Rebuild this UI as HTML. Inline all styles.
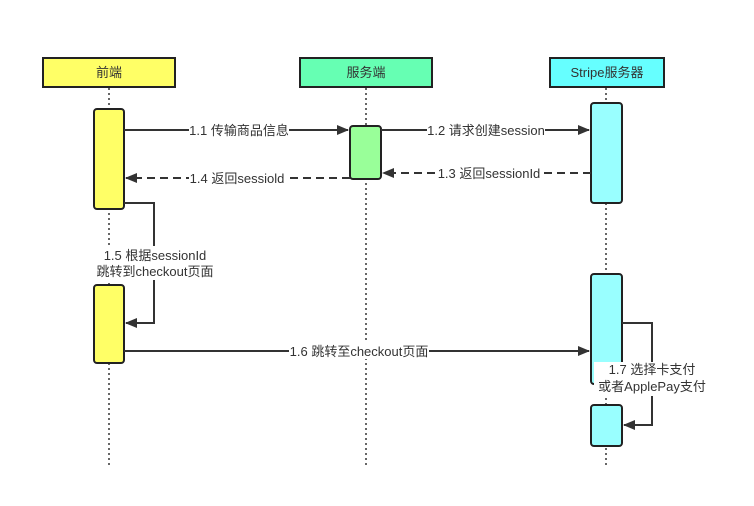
<!DOCTYPE html>
<html><head><meta charset="utf-8"><style>
html,body{margin:0;padding:0;background:#fff;}
svg text{font-family:"Liberation Sans","Noto Sans CJK SC",sans-serif;font-size:13px;fill:#333;}
</style></head><body>
<svg width="754" height="501" viewBox="0 0 754 501" xmlns="http://www.w3.org/2000/svg">
<defs><marker id="a" markerWidth="12" markerHeight="10" refX="11" refY="5" orient="auto" markerUnits="userSpaceOnUse"><path d="M0,0 L12,5 L0,10 Z" fill="#333"/></marker></defs>
<g stroke="#333" stroke-width="1.5" stroke-dasharray="2,3">
<line x1="109" y1="88" x2="109" y2="465"/><line x1="366" y1="88" x2="366" y2="465"/><line x1="606" y1="88" x2="606" y2="465"/>
</g>
<g stroke="#222" stroke-width="2">
<rect x="43" y="58" width="132" height="29" fill="#ffff66"/>
<rect x="300" y="58" width="132" height="29" fill="#66ffb3"/>
<rect x="550" y="58" width="114" height="29" fill="#66ffff"/>
<rect x="94" y="109" width="30" height="100" rx="3" fill="#ffff66"/>
<rect x="94" y="285" width="30" height="78" rx="3" fill="#ffff66"/>
<rect x="350" y="126" width="31" height="53" rx="3" fill="#99ff99"/>
<rect x="591" y="103" width="31" height="100" rx="3" fill="#99ffff"/>
<rect x="591" y="274" width="31" height="110" rx="3" fill="#99ffff"/>
<rect x="591" y="405" width="31" height="41" rx="3" fill="#99ffff"/>
</g>
<g text-anchor="middle" style="font-size:13px">
<text x="109" y="77">前端</text><text x="366" y="77">服务端</text><text x="607" y="77">Stripe服务器</text>
</g>
<g stroke="#333" stroke-width="2" fill="none">
<line x1="124" y1="130" x2="348" y2="130" marker-end="url(#a)"/>
<line x1="381" y1="130" x2="589" y2="130" marker-end="url(#a)"/>
<line x1="591" y1="173" x2="383" y2="173" stroke-dasharray="8,5" marker-end="url(#a)"/>
<line x1="350" y1="178" x2="126" y2="178" stroke-dasharray="8,5" marker-end="url(#a)"/>
<polyline points="124,203 154,203 154,323 126,323" marker-end="url(#a)"/>
<line x1="124" y1="351" x2="589" y2="351" marker-end="url(#a)"/>
<polyline points="622,323 652,323 652,425 624,425" marker-end="url(#a)"/>
</g>
<g fill="#fff">
<rect x="189" y="122" width="100" height="16"/>
<rect x="427" y="122" width="118" height="16"/>
<rect x="437" y="165" width="103" height="16"/>
<rect x="189" y="170" width="96" height="16"/>
<rect x="289" y="343" width="140" height="16"/>
<rect x="86" y="246" width="138" height="34"/>
<rect x="594" y="362" width="118" height="34"/>
</g>
<g text-anchor="middle">
<text x="239" y="135">1.1 传输商品信息</text>
<text x="486" y="135">1.2 请求创建session</text>
<text x="489" y="178">1.3 返回sessionId</text>
<text x="237" y="183">1.4 返回sessiold</text>
<text x="155" y="260">1.5 根据sessionId</text>
<text x="155" y="276">跳转到checkout页面</text>
<text x="359" y="356">1.6 跳转至checkout页面</text>
<text x="652" y="374">1.7 选择卡支付</text>
<text x="652" y="391">或者ApplePay支付</text>
</g>
</svg>
</body></html>
